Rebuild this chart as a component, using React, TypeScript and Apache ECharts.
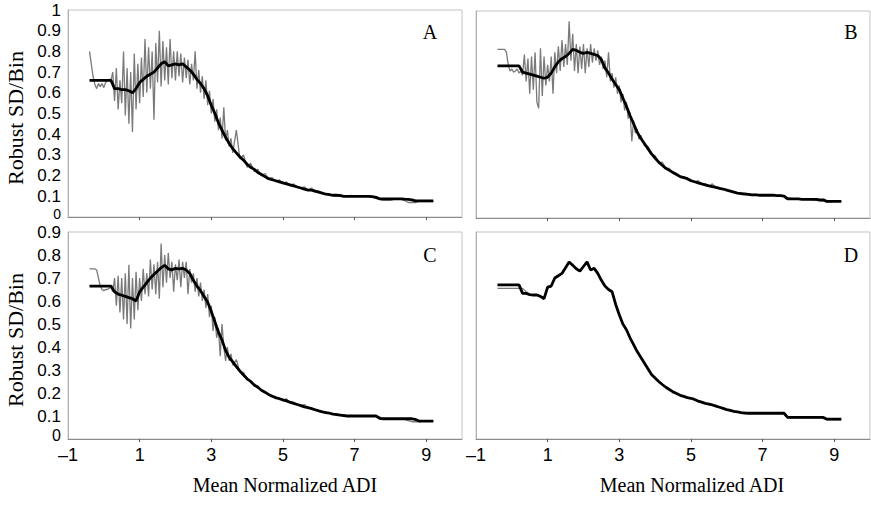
import React, { useEffect, useRef } from "react";
import * as echarts from "echarts";

// x grid for the noisy (gray) traces
const GRAY_X = [
  -0.4, -0.35, -0.3, -0.25, -0.2, -0.15, -0.1, -0.05, 0, 0.05, 0.1, 0.15, 0.2, 0.25, 0.3,
  0.35, 0.4, 0.45, 0.5, 0.55, 0.6, 0.65, 0.7, 0.75, 0.8,
  0.85, 0.9, 0.95, 1, 1.05, 1.1, 1.15, 1.2, 1.25, 1.3,
  1.35, 1.4, 1.45, 1.5, 1.55, 1.6, 1.65, 1.7, 1.75, 1.8,
  1.85, 1.9, 1.95, 2, 2.05, 2.1, 2.15, 2.2, 2.25, 2.3,
  2.35, 2.4, 2.45, 2.5, 2.55, 2.6, 2.65, 2.7, 2.75, 2.8,
  2.85, 2.9, 2.95, 3, 3.05, 3.1, 3.15, 3.2, 3.25, 3.3,
  3.35, 3.4, 3.45, 3.5, 3.55, 3.6,
  3.7, 3.8, 3.9, 4, 4.1, 4.2, 4.3, 4.4, 4.5, 4.6,
  4.7, 4.8, 4.9, 5, 5.1, 5.2, 5.3, 5.4, 5.5, 5.6,
  5.7, 5.8, 5.9, 6, 6.1, 6.2, 6.3, 6.4, 6.5, 6.6,
  6.7, 6.8, 6.9, 7, 7.1, 7.2, 7.3, 7.4, 7.5, 7.6,
  7.7, 7.8, 7.9, 8, 8.1, 8.2, 8.3, 8.4, 8.5, 8.6,
  8.7, 8.8, 8.9, 9, 9.1, 9.2,
];

// x grid for the smoothed (black) traces
const BLACK_X = [
  -0.4, -0.3, -0.2, -0.1, 0, 0.1, 0.2,
  0.3, 0.4, 0.5, 0.6, 0.7, 0.8, 0.9,
  1, 1.1, 1.2, 1.3, 1.4, 1.5, 1.6, 1.7, 1.8, 1.9,
  2, 2.1, 2.2, 2.3, 2.4, 2.5, 2.6, 2.7, 2.8, 2.9,
  3, 3.1, 3.2, 3.3, 3.4, 3.5, 3.6, 3.7, 3.8, 3.9,
  4, 4.1, 4.2, 4.3, 4.4, 4.5, 4.6, 4.7, 4.8, 4.9,
  5, 5.1, 5.2, 5.3, 5.4, 5.5, 5.6, 5.7, 5.8, 5.9,
  6, 6.1, 6.2, 6.3, 6.4, 6.5, 6.6, 6.7, 6.8, 6.9,
  7, 7.1, 7.2, 7.3, 7.4, 7.5, 7.6, 7.7, 7.8, 7.9,
  8, 8.1, 8.2, 8.3, 8.4, 8.5, 8.6, 8.7, 8.8, 8.9,
  9, 9.1, 9.2,
];

// Panel A
const A_GRAY = [
  0.8, 0.74, 0.68, 0.64, 0.62, 0.645, 0.63, 0.645, 0.625, 0.65, 0.66, 0.665, 0.66, 0.7, 0.56,
  0.72, 0.52, 0.66, 0.55, 0.8, 0.49, 0.72, 0.45, 0.7, 0.41,
  0.79, 0.52, 0.74, 0.55, 0.77, 0.58, 0.86, 0.6, 0.82, 0.62,
  0.8, 0.47, 0.84, 0.65, 0.9, 0.63, 0.85, 0.66, 0.82, 0.64,
  0.86, 0.67, 0.8, 0.66, 0.8, 0.68, 0.79, 0.65, 0.77, 0.67,
  0.76, 0.64, 0.74, 0.66, 0.8, 0.62, 0.71, 0.6, 0.68, 0.57,
  0.66, 0.54, 0.61, 0.5, 0.57, 0.46, 0.52, 0.42, 0.48, 0.38,
  0.53, 0.37, 0.42, 0.34, 0.38, 0.31,
  0.42, 0.28, 0.3, 0.24, 0.26, 0.22, 0.23, 0.2, 0.21, 0.185,
  0.19, 0.17, 0.18, 0.16, 0.17, 0.15, 0.16, 0.145, 0.14, 0.145,
  0.13, 0.14, 0.12, 0.125, 0.115, 0.11, 0.11, 0.105, 0.1, 0.11,
  0.1, 0.1, 0.105, 0.1, 0.1, 0.1, 0.1, 0.1, 0.095, 0.09,
  0.085, 0.08, 0.08, 0.08, 0.085, 0.085, 0.085, 0.08, 0.07, 0.07,
  0.07, 0.075, 0.075, 0.075, 0.075, 0.075,
];
const A_BLACK = [
  0.66, 0.66, 0.66, 0.66, 0.66, 0.66, 0.66,
  0.62, 0.62, 0.615, 0.615, 0.61, 0.6, 0.62,
  0.65, 0.665, 0.68, 0.69, 0.7, 0.72, 0.74, 0.75, 0.73, 0.735,
  0.74, 0.735, 0.74, 0.725, 0.71, 0.69, 0.665, 0.645, 0.62, 0.585,
  0.54, 0.5, 0.455, 0.42, 0.385, 0.355, 0.33, 0.31, 0.29, 0.275,
  0.255, 0.24, 0.23, 0.215, 0.205, 0.195, 0.185, 0.18, 0.175, 0.17,
  0.165, 0.16, 0.155, 0.15, 0.145, 0.14, 0.135, 0.13, 0.13, 0.125,
  0.12, 0.115, 0.11, 0.108, 0.105, 0.105, 0.103, 0.1, 0.1, 0.1,
  0.1, 0.1, 0.1, 0.1, 0.1, 0.098, 0.095, 0.088, 0.088, 0.088,
  0.088, 0.088, 0.088, 0.088, 0.086, 0.085, 0.083, 0.078, 0.078, 0.078,
  0.078, 0.078, 0.078,
];

// Panel B
const B_GRAY = [
  0.815, 0.815, 0.815, 0.815, 0.815, 0.8, 0.74, 0.71, 0.72, 0.705, 0.71, 0.72, 0.7, 0.71, 0.69,
  0.79, 0.66, 0.77, 0.6, 0.78, 0.62, 0.8, 0.56, 0.53, 0.82,
  0.59, 0.78, 0.64, 0.74, 0.66, 0.78, 0.6, 0.8, 0.7, 0.83,
  0.71, 0.86, 0.73, 0.84, 0.74, 0.95, 0.76, 0.89, 0.71, 0.84,
  0.7, 0.83, 0.72, 0.84, 0.7, 0.82, 0.73, 0.84, 0.75, 0.82,
  0.76, 0.81, 0.74, 0.78, 0.72, 0.76, 0.68, 0.8, 0.66, 0.7,
  0.63, 0.68, 0.6, 0.64, 0.56, 0.6, 0.52, 0.56, 0.48, 0.51,
  0.37, 0.47, 0.41, 0.43, 0.38, 0.4,
  0.35, 0.345, 0.31, 0.3, 0.265, 0.27, 0.24, 0.24, 0.215, 0.215,
  0.2, 0.2, 0.19, 0.185, 0.175, 0.18, 0.165, 0.165, 0.155, 0.165,
  0.145, 0.145, 0.14, 0.135, 0.13, 0.125, 0.12, 0.12, 0.115, 0.118,
  0.113, 0.115, 0.112, 0.112, 0.11, 0.11, 0.112, 0.108, 0.11, 0.105,
  0.098, 0.095, 0.092, 0.092, 0.092, 0.09, 0.09, 0.088, 0.085, 0.082,
  0.08, 0.078, 0.078, 0.08, 0.08, 0.08,
];
const B_BLACK = [
  0.735, 0.735, 0.735, 0.735, 0.735, 0.735, 0.735,
  0.705, 0.7, 0.695, 0.69, 0.685, 0.68, 0.675,
  0.68, 0.7, 0.73, 0.755, 0.77, 0.78, 0.795, 0.815, 0.81, 0.8,
  0.795, 0.8, 0.795, 0.79, 0.785, 0.765, 0.725, 0.7, 0.67, 0.645,
  0.62, 0.58, 0.54, 0.495, 0.455, 0.415, 0.385, 0.36, 0.335, 0.31,
  0.29, 0.27, 0.255, 0.24, 0.23, 0.22, 0.21, 0.2, 0.195, 0.19,
  0.18, 0.175, 0.17, 0.165, 0.16, 0.155, 0.152, 0.148, 0.143, 0.14,
  0.135, 0.13, 0.125, 0.12, 0.118, 0.116, 0.114, 0.112, 0.112, 0.11,
  0.11, 0.11, 0.11, 0.11, 0.108, 0.108, 0.106, 0.092, 0.092, 0.092,
  0.092, 0.09, 0.09, 0.09, 0.09, 0.09, 0.088, 0.088, 0.08, 0.08,
  0.08, 0.08, 0.08,
];

// Panel C
const C_GRAY = [
  0.74, 0.74, 0.74, 0.74, 0.735, 0.7, 0.665, 0.65, 0.645, 0.65, 0.65, 0.655, 0.66, 0.64, 0.7,
  0.58, 0.71, 0.55, 0.7, 0.52, 0.72, 0.5, 0.757, 0.48, 0.7,
  0.52, 0.727, 0.56, 0.7, 0.6, 0.74, 0.63, 0.72, 0.62, 0.78,
  0.65, 0.76, 0.63, 0.77, 0.61, 0.85, 0.66, 0.8, 0.68, 0.81,
  0.7, 0.77, 0.64, 0.76, 0.69, 0.78, 0.66, 0.77, 0.7, 0.77,
  0.63, 0.74, 0.68, 0.72, 0.64, 0.7, 0.62, 0.68, 0.6, 0.65,
  0.57, 0.63, 0.53, 0.58, 0.47, 0.53, 0.44, 0.48, 0.36, 0.5,
  0.4, 0.34, 0.4, 0.34, 0.37, 0.32,
  0.345, 0.29, 0.29, 0.255, 0.255, 0.23, 0.23, 0.21, 0.205, 0.19,
  0.19, 0.175, 0.18, 0.165, 0.175, 0.155, 0.16, 0.148, 0.145, 0.15,
  0.135, 0.135, 0.125, 0.125, 0.118, 0.115, 0.115, 0.108, 0.11, 0.104,
  0.106, 0.1, 0.103, 0.1, 0.1, 0.102, 0.1, 0.1, 0.1, 0.098,
  0.095, 0.09, 0.088, 0.088, 0.088, 0.088, 0.085, 0.085, 0.08, 0.075,
  0.075, 0.075, 0.078, 0.078, 0.078, 0.078,
];
const C_BLACK = [
  0.665, 0.665, 0.665, 0.665, 0.665, 0.665, 0.665,
  0.64, 0.63, 0.625, 0.62, 0.615, 0.61, 0.6,
  0.64, 0.66, 0.68, 0.7, 0.715, 0.73, 0.745, 0.755, 0.74, 0.735,
  0.742, 0.74, 0.742, 0.735, 0.72, 0.69, 0.665, 0.645, 0.62, 0.595,
  0.555, 0.51, 0.465, 0.43, 0.385, 0.355, 0.335, 0.315, 0.295, 0.278,
  0.262, 0.25, 0.235, 0.225, 0.212, 0.203, 0.194, 0.186, 0.18, 0.175,
  0.17, 0.166, 0.16, 0.155, 0.15, 0.145, 0.14, 0.136, 0.132, 0.127,
  0.122, 0.118, 0.115, 0.112, 0.108, 0.106, 0.104, 0.102, 0.1, 0.1,
  0.1, 0.1, 0.1, 0.1, 0.1, 0.1, 0.1, 0.09, 0.088, 0.088,
  0.088, 0.088, 0.088, 0.088, 0.088, 0.088, 0.088, 0.085, 0.078, 0.078,
  0.078, 0.078, 0.078,
];

// Panel D
const D_GRAY = [
  0.655, 0.655, 0.655, 0.655, 0.655, 0.655, 0.655,
  0.655, 0.64, 0.628, 0.626, 0.626, 0.62, 0.61,
  0.655, 0.665, 0.7, 0.71, 0.72, 0.745, 0.765, 0.755, 0.74, 0.73,
  0.75, 0.77, 0.735, 0.742, 0.72, 0.69, 0.665, 0.65, 0.64, 0.585,
  0.54, 0.5, 0.475, 0.44, 0.41, 0.38, 0.355, 0.33, 0.305, 0.28,
  0.265, 0.25, 0.237, 0.225, 0.215, 0.205, 0.198, 0.19, 0.185, 0.18,
  0.177, 0.172, 0.165, 0.16, 0.155, 0.152, 0.148, 0.143, 0.138, 0.133,
  0.128, 0.124, 0.12, 0.118, 0.115, 0.113, 0.112, 0.112, 0.112, 0.112,
  0.112, 0.112, 0.112, 0.112, 0.112, 0.112, 0.11, 0.092, 0.092, 0.092,
  0.092, 0.092, 0.092, 0.092, 0.092, 0.092, 0.092, 0.09, 0.083, 0.083,
  0.083, 0.083, 0.083,
];
const D_BLACK = [
  0.67, 0.67, 0.67, 0.67, 0.67, 0.67, 0.67,
  0.633, 0.633, 0.628, 0.626, 0.626, 0.62, 0.61,
  0.66, 0.665, 0.7, 0.71, 0.72, 0.745, 0.77, 0.755, 0.74, 0.73,
  0.75, 0.77, 0.735, 0.742, 0.72, 0.69, 0.665, 0.65, 0.64, 0.585,
  0.54, 0.5, 0.475, 0.44, 0.41, 0.38, 0.355, 0.33, 0.305, 0.28,
  0.265, 0.25, 0.237, 0.225, 0.215, 0.205, 0.198, 0.19, 0.185, 0.18,
  0.177, 0.172, 0.165, 0.16, 0.155, 0.152, 0.148, 0.143, 0.138, 0.133,
  0.128, 0.124, 0.12, 0.118, 0.115, 0.113, 0.112, 0.112, 0.112, 0.112,
  0.112, 0.112, 0.112, 0.112, 0.112, 0.112, 0.112, 0.094, 0.094, 0.094,
  0.094, 0.094, 0.094, 0.094, 0.094, 0.094, 0.094, 0.094, 0.086, 0.086,
  0.086, 0.086, 0.086,
];

const PANEL_LETTERS = ["A", "B", "C", "D"];
const X_LABEL_TICKS = [-1, 1, 3, 5, 7, 9];
const X_MARK_TICKS = [1, 3, 5, 7, 9];
const Y_MAX = [1, 1, 0.9, 0.9];
const Y_LABELS_TOP = [0.1, 0.2, 0.3, 0.4, 0.5, 0.6, 0.7, 0.8, 0.9, 1];
const Y_LABELS_BOTTOM = [0.1, 0.2, 0.3, 0.4, 0.5, 0.6, 0.7, 0.8, 0.9];
const Y_TITLE = "Robust SD/Bin";
const X_TITLE = "Mean Normalized ADI";

const PANELS = [
  { gray: A_GRAY, grayX: GRAY_X, black: A_BLACK },
  { gray: B_GRAY, grayX: GRAY_X, black: B_BLACK },
  { gray: C_GRAY, grayX: GRAY_X, black: C_BLACK },
  { gray: D_GRAY, grayX: BLACK_X, black: D_BLACK },
];

function pairs(xs: number[], ys: number[]) {
  return xs.map((x, i) => [x, ys[i]]);
}

export default function App() {
  const ref = useRef<HTMLDivElement>(null);
  useEffect(() => {
    if (!ref.current) return;
    const chart = echarts.init(ref.current, null, { renderer: "svg" });
    const sans = "Liberation Sans";
    const serif = "Liberation Serif";
    const labelSize = 17;
    const grids = [
      { left: 68, top: 10, width: 394, height: 207 },
      { left: 476, top: 11, width: 394, height: 207 },
      { left: 68, top: 232, width: 394, height: 207 },
      { left: 476, top: 232, width: 394, height: 207 },
    ].map((g) => ({ ...g, show: true, borderColor: "#c4c4c4", borderWidth: 1 }));

    const xAxis = grids.map((_, i) => ({
      type: "value",
      gridIndex: i,
      min: -1,
      max: 10,
      interval: 2,
      axisLine: { show: true, onZero: false, lineStyle: { color: "#8c8c8c", width: 1 } },
      axisTick: { show: true, length: 3, customValues: X_MARK_TICKS, lineStyle: { color: "#555" } },
      axisLabel: {
        show: i >= 2,
        customValues: X_LABEL_TICKS,
        formatter: (v: number) => (v < 0 ? "\u2013" + Math.abs(v) : String(v)),
        color: "#000",
        fontFamily: sans,
        fontSize: 18,
        margin: 7,
      },
      splitLine: { show: false },
    }));

    const yAxis = grids.map((_, i) => ({
      type: "value",
      gridIndex: i,
      min: 0,
      max: Y_MAX[i],
      interval: 0.1,
      axisLine: { show: true, onZero: false, lineStyle: { color: "#b0b0b0", width: 1 } },
      axisTick: { show: false },
      axisLabel: {
        show: i % 2 === 0,
        customValues: i === 0 ? Y_LABELS_TOP : Y_LABELS_BOTTOM,
        formatter: (v: number) => {
          const r = Math.round(v * 10) / 10;
          return r === 1 ? "1" : r.toFixed(1);
        },
        color: "#000",
        fontFamily: sans,
        fontSize: labelSize,
        margin: 7,
      },
      splitLine: { show: false },
    }));

    const series: any[] = [];
    PANELS.forEach((p, i) => {
      series.push({
        type: "line",
        xAxisIndex: i,
        yAxisIndex: i,
        data: pairs(p.grayX, p.gray),
        symbol: "none",
        silent: true,
        z: 2,
        lineStyle: { color: "#7a7a7a", width: 1.3 },
      });
      series.push({
        type: "line",
        xAxisIndex: i,
        yAxisIndex: i,
        data: pairs(BLACK_X, p.black),
        symbol: "none",
        silent: true,
        z: 3,
        lineStyle: { color: "#000", width: 2.8 },
      });
    });

    const letterPos = [
      [430, 32],
      [851, 32],
      [430, 255],
      [851, 255],
    ];
    const graphic: any[] = [];
    PANEL_LETTERS.forEach((L, i) => {
      graphic.push({
        type: "text",
        x: letterPos[i][0],
        y: letterPos[i][1],
        style: { text: L, fontFamily: serif, fontSize: 20, fill: "#000", align: "center", verticalAlign: "middle" },
      });
    });
    // the "0" labels of the left-hand y axes, sized and placed to clear the neighbouring labels
    [
      [214, 14],
      [435.5, 16],
    ].forEach(([cy, fs]) => {
      graphic.push({
        type: "text",
        x: 61,
        y: cy,
        style: { text: "0", fontFamily: sans, fontSize: fs, fill: "#000", align: "right", verticalAlign: "middle" },
      });
    });
    [118, 340].forEach((cy) => {
      graphic.push({
        type: "text",
        x: 15,
        y: cy,
        rotation: Math.PI / 2,
        style: { text: Y_TITLE, fontFamily: serif, fontSize: 22, fill: "#000", align: "center", verticalAlign: "middle" },
      });
    });
    [285, 692].forEach((cx) => {
      graphic.push({
        type: "text",
        x: cx,
        y: 485,
        style: { text: X_TITLE, fontFamily: serif, fontSize: 20, fill: "#000", align: "center", verticalAlign: "middle" },
      });
    });

    chart.setOption({
      animation: false,
      backgroundColor: "#fff",
      grid: grids,
      xAxis,
      yAxis,
      series,
      graphic,
    });
    return () => chart.dispose();
  }, []);
  return (
    <div
      ref={ref}
      style={{ position: "absolute", left: 0, top: 0, width: 871, height: 505 }}
    />
  );
}
